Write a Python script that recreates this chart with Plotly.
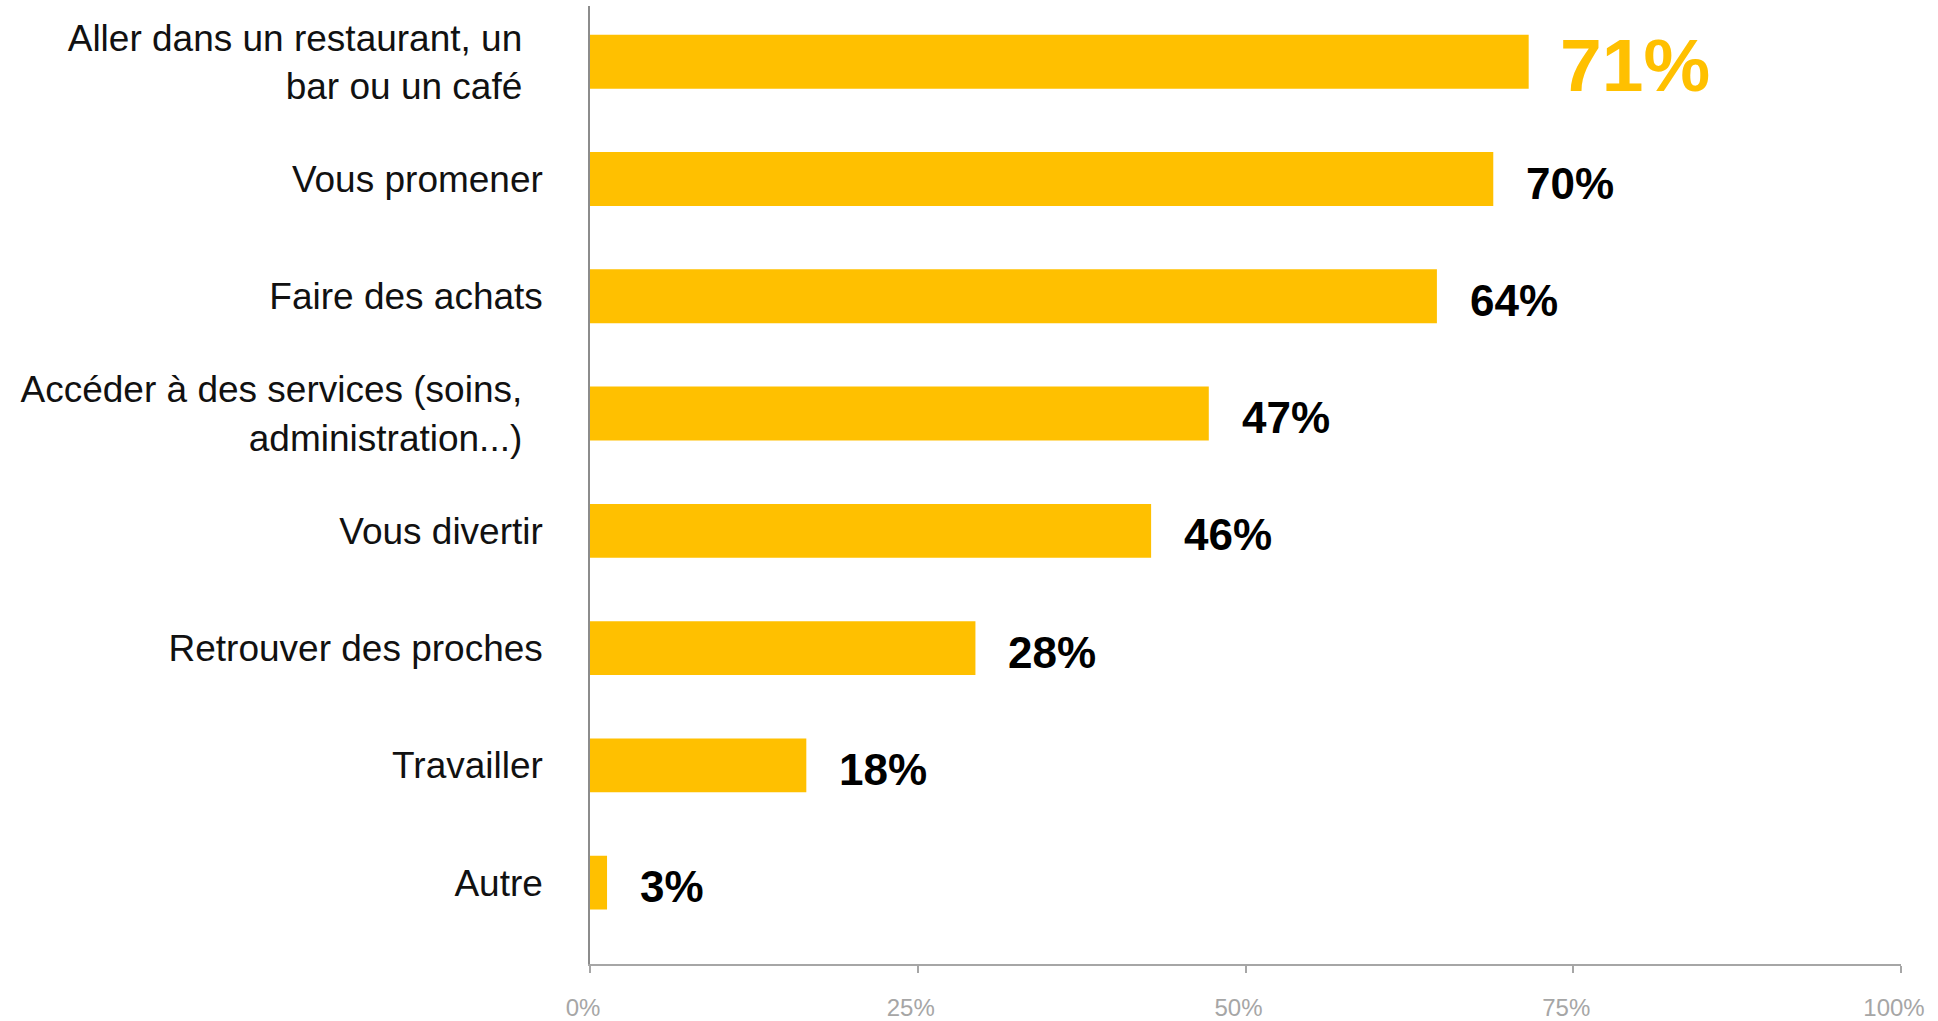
import plotly.graph_objects as go

# ---- data ----
categories = [
    "Aller dans un restaurant, un\u00a0\u00a0<br>bar ou un café\u00a0\u00a0",
    "Vous promener",
    "Faire des achats",
    "Accéder à des services (soins,\u00a0\u00a0<br>administration...)\u00a0\u00a0",
    "Vous divertir",
    "Retrouver des proches",
    "Travailler",
    "Autre",
]
bar_values = [71.6, 68.9, 64.6, 47.2, 42.8, 29.4, 16.5, 1.3]
value_labels = ["71%", "70%", "64%", "47%", "46%", "28%", "18%", "3%"]
x_ticks = [0, 25, 50, 75, 100]
x_tick_labels = ["0%", "25%", "50%", "75%", "100%"]

GOLD = "#FFC000"
SANS = "Liberation Sans, Arial, sans-serif"

fig = go.Figure()
fig.add_trace(go.Bar(
    x=bar_values,
    y=categories,
    orientation="h",
    marker=dict(color=GOLD, line=dict(width=0)),
    width=0.46,
    hoverinfo="skip",
))

highlight = bar_values.index(max(bar_values))
annotations = []
for i, (v, c, t) in enumerate(zip(bar_values, categories, value_labels)):
    if i == highlight:
        font = dict(family=SANS, size=75, color=GOLD, weight="bold")
        xs, ys = 29, -3
    else:
        font = dict(family=SANS, size=44, color="#000000", weight="bold")
        xs, ys = 31, -4
    annotations.append(dict(
        x=v, y=c, xref="x", yref="y", text=t, showarrow=False,
        xanchor="left", yanchor="middle", xshift=xs, yshift=ys, font=font,
    ))

fig.update_layout(
    width=1938, height=1021,
    margin=dict(l=590, r=37, t=6, b=57),
    paper_bgcolor="white", plot_bgcolor="white",
    showlegend=False,
    annotations=annotations,
    xaxis=dict(
        range=[0, 100], tickvals=x_ticks, ticktext=x_tick_labels,
        showgrid=False, zeroline=False, automargin=False,
        showline=True, linecolor="#A6A6A6", linewidth=2,
        ticks="outside", ticklen=7, tickcolor="#A6A6A6", tickwidth=2,
        tickfont=dict(family=SANS, size=24, color="#A6A6A6"),
        ticklabelshift=-7, ticklabelstandoff=14,
        fixedrange=True,
    ),
    yaxis=dict(
        type="category", range=[7.694, -0.476], autorange=False,
        showgrid=False, zeroline=False, automargin=False,
        showline=True, linecolor="#8C8C8C", linewidth=1.5,
        ticks="", ticklabelstandoff=38,
        tickfont=dict(family=SANS, size=37, color="#111111"),
        fixedrange=True,
    ),
)

fig.write_html("out.html", config={"displayModeBar": False},
               post_script="document.body.style.margin='0';")
